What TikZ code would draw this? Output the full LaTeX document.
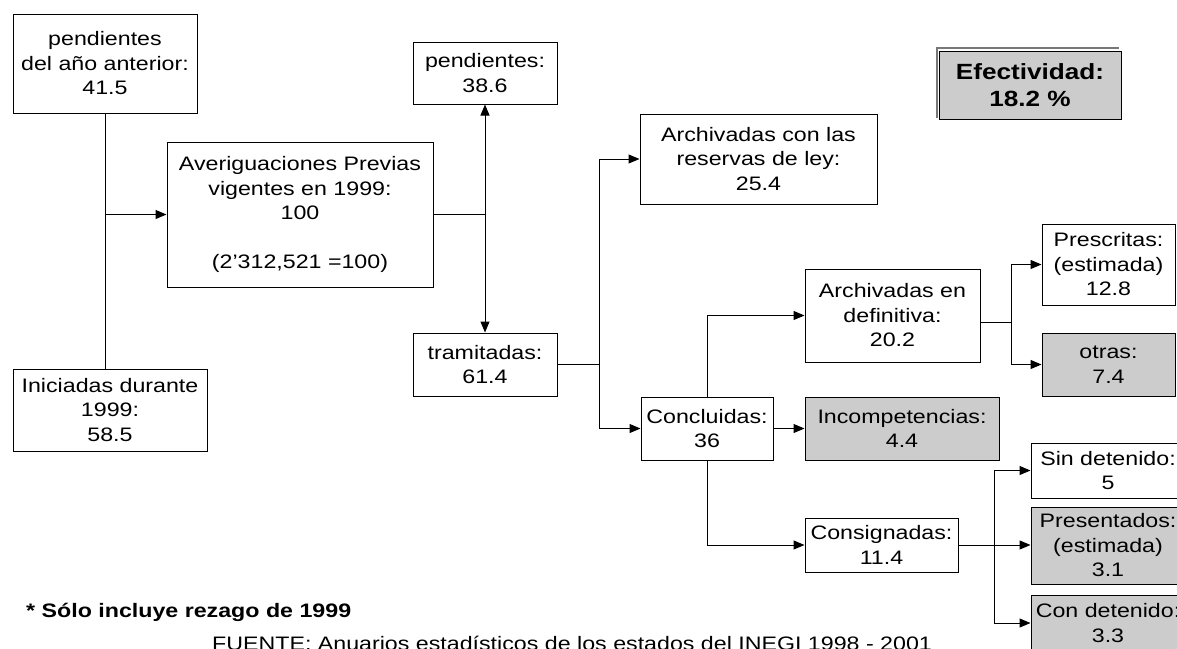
\documentclass[tikz,border=0pt]{standalone}
\usepackage{fontspec}
\setmainfont{Liberation Sans}[FakeStretch=1.19]
\usetikzlibrary{arrows.meta}
\definecolor{boxgray}{RGB}{204,204,204}
\definecolor{framegray}{RGB}{120,120,120}
\tikzset{
  bx/.style={draw=black, line width=1pt, align=center, inner sep=0pt,
             font=\fontsize{19.5}{24.5}\selectfont},
  gbx/.style={bx, fill=boxgray},
  conn/.style={line width=1pt, black},
  arr/.style={conn, -{Triangle[length=11pt,width=9pt]}},
  darr/.style={conn, {Triangle[length=11pt,width=9pt]}-{Triangle[length=11pt,width=9pt]}},
}
\begin{document}
\begin{tikzpicture}[x=1pt,y=-1pt]
\useasboundingbox (0,0) rectangle (1177,648);
\fill[white] (0,0) rectangle (1177,648);

% boxes
\node[bx, minimum width=184pt, minimum height=99pt] (pa) at (105,63.5) {pendientes\\del año anterior:\\41.5};
\node[bx, minimum width=266pt, minimum height=145pt] (av) at (300,214.5) {Averiguaciones Previas\\vigentes en 1999:\\100\\\mbox{}\\(2’312,521 =100)};
\node[bx, minimum width=194pt, minimum height=82pt] (in) at (110,410) {Iniciadas durante\\1999:\\58.5};
\node[bx, minimum width=144pt, minimum height=62pt] (pe) at (485,73) {pendientes:\\38.6};
\node[bx, minimum width=144pt, minimum height=63pt] (tr) at (485,364.5) {tramitadas:\\61.4};
\node[bx, minimum width=237pt, minimum height=90pt] (ar) at (758.5,159) {Archivadas con las\\reservas de ley:\\25.4};
\node[bx, minimum width=132pt, minimum height=63pt] (co) at (707,428.5) {Concluidas:\\36};
\node[bx, minimum width=175pt, minimum height=93pt] (ad) at (892.5,315.5) {Archivadas en\\definitiva:\\20.2};
\node[gbx, minimum width=194pt, minimum height=63pt] (ic) at (902,428.5) {Incompetencias:\\4.4};
\node[bx, minimum width=153pt, minimum height=54pt] (cs) at (881.5,545) {Consignadas:\\11.4};
\node[bx, minimum width=133pt, minimum height=81pt] (pr) at (1108.5,264.5) {Prescritas:\\(estimada)\\12.8};
\node[gbx, minimum width=133pt, minimum height=63pt] (ot) at (1108.5,364.5) {otras:\\7.4};
\node[bx, minimum width=154pt, minimum height=55pt] (sd) at (1108,470.5) {Sin detenido:\\5};
\node[gbx, minimum width=154pt, minimum height=77pt] (pt) at (1108,545.5) {Presentados:\\(estimada)\\3.1};
\node[gbx, minimum width=154pt, minimum height=56pt] (cd) at (1108,623) {Con detenido:\\3.3};

% efectividad box
\draw[framegray, line width=2pt] (937,118) -- (937,48) -- (1119,48);
\node[gbx, minimum width=182pt, minimum height=68pt, font=\fontsize{22}{27}\selectfont\bfseries] (ef) at (1030,85) {Efectividad:\\18.2 \%};

% connectors
\coordinate (j1) at (105,214.5);
\draw[conn] (pa.south) -- (pa.south |- in.north);
\draw[arr] (j1) -- (av.west);
\draw[conn] (av.east) -- (av.east -| pe.south);
\draw[darr] (pe.south) -- (tr.north);

\coordinate (j2) at (599,364.5);
\draw[conn] (tr.east) -- (j2);
\draw[arr] (j2) |- (ar.west);
\draw[arr] (j2) |- (co.west);

\draw[arr] (co.north) |- (ad.west);
\draw[arr] (co.east) -- (ic.west);
\draw[arr] (co.south) |- (cs.west);

\coordinate (j3) at (1011,322);
\draw[conn] (ad.east |- j3) -- (j3);
\draw[arr] (j3) |- (pr.west);
\draw[arr] (j3) |- (ot.west);

\coordinate (j4) at (994,545);
\draw[conn] (cs.east) -- (j4);
\draw[arr] (j4) |- (sd.west);
\draw[arr] (j4) -- (j4 -| pt.west);
\draw[arr] (j4) |- (cd.west);

% notes
\node[anchor=base west, inner sep=0pt, font=\fontsize{19.5}{24.5}\selectfont\bfseries] (nota) at (26,617) {* Sólo incluye rezago de 1999};
\node[anchor=base west, inner sep=0pt, font=\fontsize{19.5}{24.5}\selectfont] (fuente) at (212,650) {FUENTE: Anuarios estadísticos de los estados del INEGI 1998 - 2001};
\end{tikzpicture}
\end{document}
